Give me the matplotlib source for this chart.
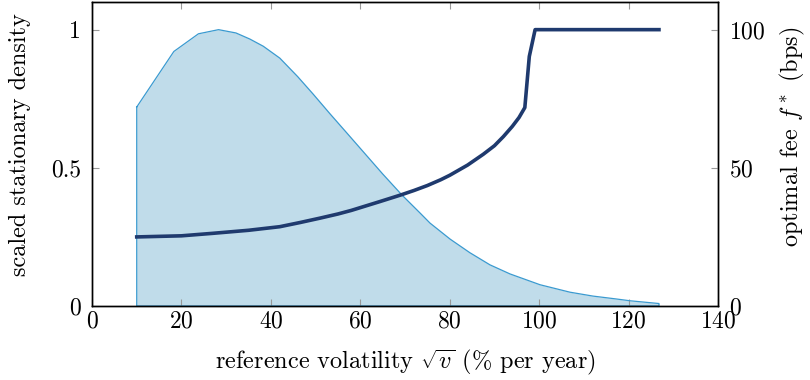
import matplotlib
matplotlib.use("Agg")
import matplotlib.pyplot as plt

plt.rcParams['font.family'] = ['cmr10', 'DejaVu Serif']
plt.rcParams['mathtext.fontset'] = 'cm'
plt.rcParams['axes.formatter.use_mathtext'] = True

# density (scaled stationary density) vs reference volatility
dens_x = [10, 18.3, 23.8, 28.3, 32.2, 35.3, 38.3, 42, 46, 49.5, 53.2, 57,
          61, 65, 69.3, 73.4, 75.6, 80.1, 84.5, 89, 93.5, 100.2, 106.9, 112,
          117, 120.3, 126.8]
dens_y = [0.72, 0.921, 0.985, 1.0, 0.988, 0.966, 0.940, 0.897, 0.830, 0.766,
          0.696, 0.626, 0.552, 0.478, 0.402, 0.336, 0.300, 0.242, 0.193,
          0.149, 0.116, 0.077, 0.050, 0.036, 0.026, 0.019, 0.009]

# optimal fee (bps)
fee_x = [10, 20, 27, 35, 42, 46.5, 51, 55, 58, 61, 64.4, 68.9, 72, 75, 78,
         80, 84, 87.5, 90, 92, 94, 95.5, 96.8, 97.8, 99.1, 126.8]
fee_y = [25, 25.4, 26.3, 27.4, 28.7, 30.2, 31.8, 33.3, 34.6, 36.1, 37.8,
         40.1, 41.8, 43.6, 45.7, 47.3, 51.0, 54.9, 58.0, 61.3, 65.0, 68.2,
         71.8, 90.3, 100, 100]

xticks = [0, 20, 40, 60, 80, 100, 120, 140]
left_ticks = [0, 0.5, 1]
left_labels = ['0', '0.5', '1']
right_ticks = [0, 50, 100]

fig = plt.figure(figsize=(8.1, 3.8), dpi=100)
ax = fig.add_axes([0.1136, 0.1947, 0.7728, 0.8])
ax2 = ax.twinx()

ax.fill_between(dens_x, 0, dens_y, color='#c0dcea', lw=0)
ax.plot(dens_x + [dens_x[-1], dens_x[0], dens_x[0]],
        dens_y + [0, 0, dens_y[0]], color='#3a9ad0', lw=0.9)

ax2.plot(fee_x, fee_y, color='#1f3a6e', lw=2.6, solid_joinstyle='round')

ax.set_xlim(0, 140)
ax.set_ylim(0, 1.1)
ax2.set_ylim(0, 110)

ax.set_xticks(xticks)
ax.set_yticks(left_ticks)
ax.set_yticklabels(left_labels)
ax2.set_yticks(right_ticks)

ax.tick_params(axis='x', direction='in', top=True, length=5, color='#999999',
               labelsize=17, pad=3)
ax.tick_params(axis='y', direction='in', length=5, color='#999999',
               labelsize=17, pad=8)
ax2.tick_params(axis='y', direction='in', length=5, color='#999999',
                labelsize=17, pad=8)

for a in (ax, ax2):
    for s in a.spines.values():
        s.set_linewidth(1.0)

ax.set_xlabel(r'reference volatility $\sqrt{v}$ (% per year)', fontsize=17.5,
              labelpad=11)
ax.set_ylabel('scaled stationary density', fontsize=17.5, labelpad=14,
              y=0.53)
ax2.set_ylabel(r'optimal fee $f^*$ (bps)', fontsize=17.5, labelpad=9,
               y=0.555)

fig.savefig('out.png', dpi=100)
